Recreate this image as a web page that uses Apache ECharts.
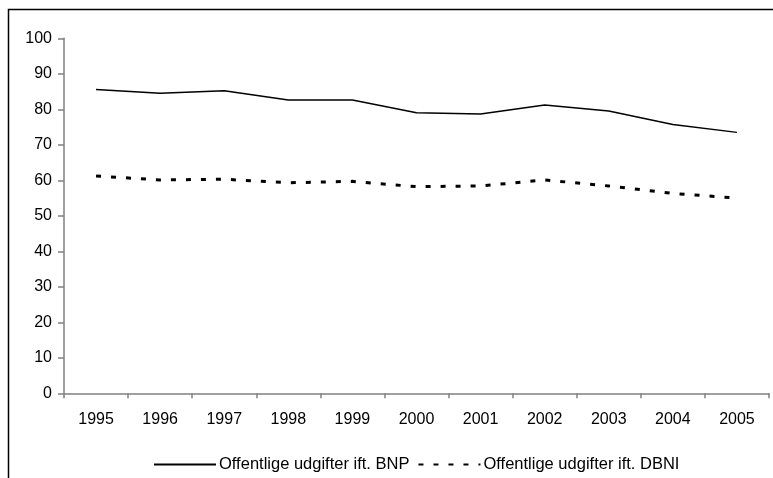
<!DOCTYPE html>
<html>
<head>
<meta charset="utf-8">
<script src="https://cdn.jsdelivr.net/npm/echarts@6/dist/echarts.min.js"></script>
<style>
html,body{margin:0;padding:0;background:#fff;}
#chart{width:773px;height:478px;}
</style>
</head>
<body>
<div id="chart"></div>
<script>
const years = ['1995','1996','1997','1998','1999','2000','2001','2002','2003','2004','2005'];
const bnpName = 'Offentlige udgifter ift. BNP';
const dbniName = 'Offentlige udgifter ift. DBNI';
const bnpValues = [85.6, 84.5, 85.2, 82.6, 82.6, 79.0, 78.7, 81.2, 79.5, 75.7, 73.5];
const dbniValues = [61.2, 60.1, 60.3, 59.3, 59.7, 58.2, 58.4, 60.1, 58.4, 56.3, 55.0];
const yTicks = { min: 0, max: 100, interval: 10 };

const chart = echarts.init(document.getElementById('chart'), null, { renderer: 'canvas' });
const font = 'Liberation Sans, Arial, sans-serif';
chart.setOption({
  animation: false,
  backgroundColor: '#fff',
  textStyle: { fontFamily: font },
  graphic: [{
    type: 'rect',
    shape: { x: 8.5, y: 9.5, width: 900, height: 600 },
    style: { fill: 'none', stroke: '#000', lineWidth: 1.5 },
    silent: true
  }],
  grid: { left: 64, right: 4, top: 38.3, bottom: 84.7, containLabel: false },
  legend: {
    left: 148,
    top: 451,
    itemWidth: 62,
    itemHeight: 14,
    itemGap: 8,
    itemStyle: { opacity: 0 },
    textStyle: { fontFamily: font, fontSize: 16.5, color: '#000', padding: [0, 0, 0, -2] },
    data: [bnpName, dbniName]
  },
  xAxis: {
    type: 'category',
    data: years,
    boundaryGap: true,
    axisLine: { lineStyle: { color: '#808080', width: 1.5 } },
    axisTick: { show: true, length: 5, lineStyle: { color: '#808080', width: 1.5 } },
    axisLabel: { fontFamily: font, fontSize: 16, color: '#000', margin: 18 },
    splitLine: { show: false }
  },
  yAxis: {
    type: 'value',
    min: yTicks.min, max: yTicks.max, interval: yTicks.interval,
    axisLine: { show: true, lineStyle: { color: '#808080', width: 1.5 } },
    axisTick: { show: true, length: 6, lineStyle: { color: '#808080', width: 1.5 } },
    axisLabel: { fontFamily: font, fontSize: 16, color: '#000', margin: 12 },
    splitLine: { show: false }
  },
  series: [
    {
      name: bnpName, type: 'line', data: bnpValues,
      symbol: 'none', color: '#000',
      lineStyle: { color: '#000', width: 1.5 }
    },
    {
      name: dbniName, type: 'line', data: dbniValues,
      symbol: 'none', color: '#000',
      lineStyle: { color: '#000', width: 3, type: [5, 10] }
    }
  ]
});
</script>
</body>
</html>
